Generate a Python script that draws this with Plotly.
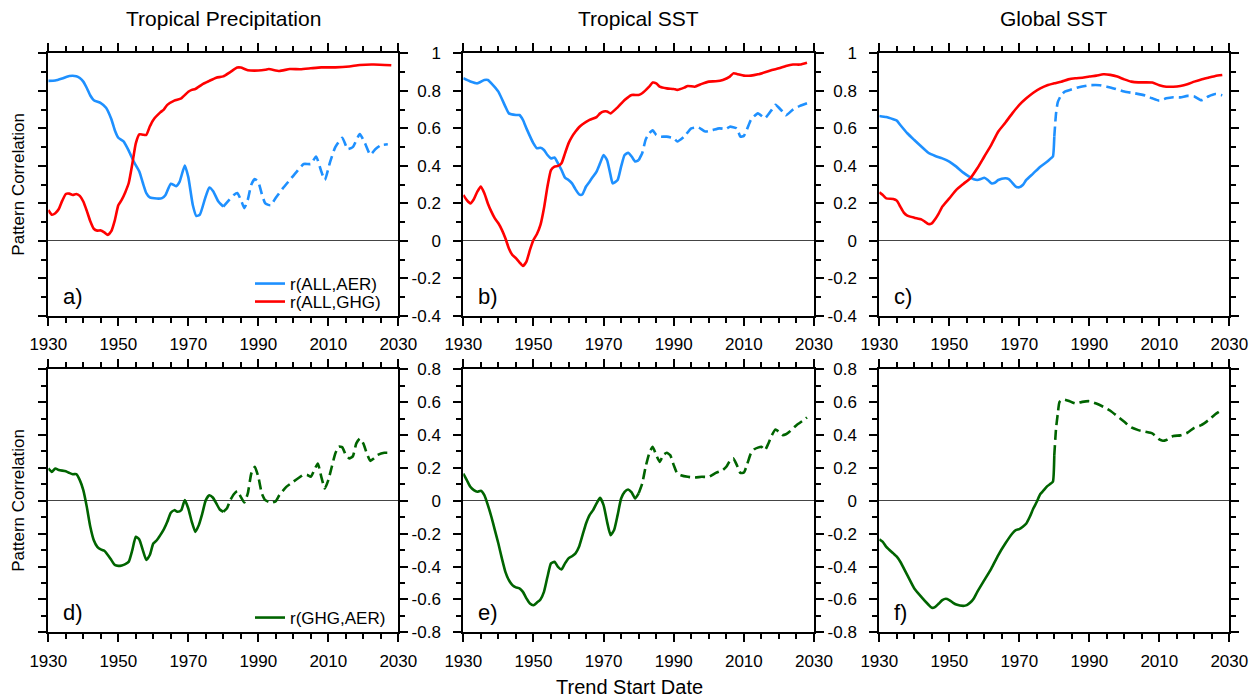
import plotly.graph_objects as go

BREAK_YEAR = 1980

# ---------------- Panel a: Tropical Precipitation ----------------
a_aer_years = [1930, 1932, 1934, 1936, 1938, 1939, 1940, 1941, 1942, 1943, 1945, 1946.5, 1948, 1949,
               1950, 1951.5, 1953, 1954.5, 1956, 1957, 1958, 1959, 1961, 1962.5, 1963.5, 1965, 1966.5,
               1967.5, 1969, 1970, 1971.3, 1972.3, 1973.3, 1974.8, 1976, 1977.1, 1978.6, 1980,
               1981.5, 1983, 1984, 1985, 1986, 1987, 1988, 1989, 1990, 1991, 1992, 1993.5, 1995, 1997,
               1999, 2001, 2003, 2005, 2006.5, 2008, 2009, 2010.5, 2012, 2014, 2015.5, 2017, 2019,
               2020.5, 2022, 2023.5, 2025, 2027]
a_aer_vals = [0.853, 0.855, 0.866, 0.879, 0.878, 0.868, 0.849, 0.815, 0.775, 0.75, 0.735, 0.71, 0.65, 0.59,
              0.55, 0.53, 0.48, 0.42, 0.37, 0.31, 0.255, 0.232, 0.226, 0.228, 0.245, 0.305, 0.292,
              0.315, 0.402, 0.34, 0.19, 0.133, 0.14, 0.227, 0.285, 0.265, 0.21, 0.183,
              0.215, 0.245, 0.255, 0.22, 0.175, 0.22, 0.3, 0.33, 0.315, 0.25, 0.2, 0.19, 0.23, 0.28,
              0.325, 0.37, 0.41, 0.41, 0.45, 0.37, 0.325, 0.42, 0.5, 0.55, 0.49, 0.5, 0.57,
              0.52, 0.46, 0.49, 0.51, 0.515]
a_ghg_years = [1930, 1931, 1932, 1933, 1934, 1935, 1936, 1937, 1938, 1939, 1940, 1941, 1942, 1943, 1944,
               1945, 1946, 1947, 1948, 1949, 1950, 1951, 1952, 1953, 1954, 1955, 1956, 1957, 1958, 1959,
               1960, 1962, 1963, 1964, 1966, 1968, 1970, 1971, 1972, 1974, 1976, 1978, 1980, 1982, 1984,
               1985, 1987, 1990, 1992, 1993, 1996, 1999, 2002, 2005, 2008, 2012, 2016, 2019, 2023, 2028]
a_ghg_vals = [0.165, 0.14, 0.148, 0.17, 0.215, 0.25, 0.252, 0.245, 0.25, 0.24, 0.21, 0.16, 0.105, 0.065, 0.055,
              0.056, 0.046, 0.032, 0.052, 0.11, 0.19, 0.22, 0.26, 0.31, 0.41, 0.52, 0.568, 0.566, 0.565, 0.61,
              0.645, 0.685, 0.70, 0.725, 0.748, 0.76, 0.795, 0.805, 0.81, 0.835, 0.853, 0.87, 0.877, 0.9, 0.924,
              0.924, 0.91, 0.908, 0.912, 0.916, 0.906, 0.916, 0.915, 0.92, 0.925, 0.925, 0.93, 0.938, 0.94, 0.936]

# ---------------- Panel b: Tropical SST ----------------
b_aer_years = [1930, 1932, 1934, 1936, 1937, 1938, 1940, 1942, 1943, 1945, 1946, 1947, 1948, 1950, 1951,
               1952, 1953, 1954, 1955, 1956, 1957, 1958, 1959, 1960, 1961, 1962, 1963, 1963.5, 1964, 1965,
               1966, 1967, 1968, 1969, 1970, 1971, 1972, 1972.6, 1974, 1975, 1976, 1977, 1978, 1979, 1980,
               1981, 1982, 1983, 1984, 1985, 1986, 1988, 1990, 1991, 1993, 1995, 1997, 1999, 2001, 2003,
               2005, 2006, 2008, 2009, 2010, 2011, 2012, 2014, 2016, 2018, 2019, 2021, 2022, 2024, 2026, 2028]
b_aer_vals = [0.867, 0.85, 0.84, 0.858, 0.858, 0.84, 0.796, 0.716, 0.68, 0.671, 0.671, 0.645, 0.60, 0.52, 0.494,
              0.497, 0.485, 0.458, 0.44, 0.445, 0.414, 0.378, 0.337, 0.325, 0.307, 0.275, 0.249, 0.245, 0.25, 0.29,
              0.316, 0.343, 0.37, 0.414, 0.458, 0.43, 0.35, 0.307, 0.325, 0.396, 0.458, 0.47, 0.45, 0.423, 0.43,
              0.467, 0.54, 0.574, 0.59, 0.565, 0.556, 0.556, 0.547, 0.53, 0.556, 0.60, 0.605, 0.583, 0.59, 0.60,
              0.597, 0.609, 0.60, 0.556, 0.56, 0.60, 0.645, 0.68, 0.654, 0.70, 0.725, 0.69, 0.67, 0.70, 0.72, 0.734]
b_ghg_years = [1930, 1931, 1932, 1933, 1934, 1935, 1936, 1937, 1938, 1939, 1940, 1941, 1942, 1943, 1944,
               1945, 1946, 1947, 1948, 1949, 1950, 1951, 1952, 1953, 1954, 1955, 1956, 1957, 1958, 1959,
               1960, 1961, 1962, 1963, 1964, 1966, 1968, 1969, 1970, 1971, 1972, 1974, 1976, 1978, 1980,
               1981, 1983, 1984, 1985, 1986, 1988, 1990, 1991, 1993, 1994, 1996, 1998, 2000, 2002, 2004,
               2006, 2007, 2008, 2010, 2012, 2014, 2016, 2018, 2020, 2022, 2024, 2026, 2028]
b_ghg_vals = [0.245, 0.218, 0.2, 0.222, 0.263, 0.29, 0.254, 0.2, 0.156, 0.12, 0.094, 0.059, 0.014, -0.04, -0.075,
              -0.092, -0.114, -0.133, -0.11, -0.048, 0.005, 0.037, 0.085, 0.174, 0.29, 0.378, 0.396, 0.40, 0.414, 0.467,
              0.52, 0.556, 0.583, 0.606, 0.622, 0.645, 0.66, 0.68, 0.69, 0.69, 0.68, 0.712, 0.751, 0.778, 0.778,
              0.787, 0.822, 0.844, 0.84, 0.822, 0.813, 0.81, 0.805, 0.817, 0.826, 0.822, 0.837, 0.849, 0.851, 0.858,
              0.876, 0.893, 0.89, 0.881, 0.881, 0.888, 0.899, 0.911, 0.92, 0.932, 0.94, 0.94, 0.95]

# ---------------- Panel c: Global SST ----------------
c_aer_years = [1930, 1932, 1934, 1935, 1936, 1938, 1940, 1942, 1944, 1946, 1948, 1950, 1952, 1954, 1956,
               1957, 1958, 1959, 1960, 1961, 1962, 1963, 1964, 1966, 1967, 1968, 1969, 1970, 1971, 1972,
               1974, 1976, 1978, 1979, 1979.6, 1980,
               1980.5, 1981, 1982, 1983, 1985, 1987, 1990, 1993, 1995, 1997, 2000, 2003, 2006, 2008,
               2010, 2012, 2014, 2016, 2018, 2020, 2022, 2024, 2026, 2028]
c_aer_vals = [0.666, 0.66, 0.648, 0.641, 0.618, 0.574, 0.538, 0.503, 0.47, 0.453, 0.44, 0.423, 0.396, 0.364, 0.339,
              0.329, 0.325, 0.33, 0.337, 0.325, 0.307, 0.31, 0.325, 0.334, 0.33, 0.31, 0.29, 0.286, 0.298, 0.325,
              0.36, 0.396, 0.423, 0.44, 0.45, 0.556,
              0.68, 0.74, 0.778, 0.796, 0.808, 0.819, 0.83, 0.83, 0.822, 0.813, 0.796, 0.787, 0.775, 0.76,
              0.748, 0.76, 0.766, 0.765, 0.773, 0.77, 0.75, 0.77, 0.783, 0.776]
c_ghg_years = [1930, 1931, 1932, 1934, 1935, 1936, 1937, 1938, 1940, 1942, 1943, 1944, 1945, 1946, 1947,
               1948, 1950, 1952, 1954, 1956, 1958, 1960, 1962, 1964, 1966, 1968, 1970, 1972, 1974, 1976,
               1978, 1980, 1982, 1984, 1986, 1988, 1990, 1992, 1994, 1996, 1998, 2000, 2002, 2004, 2006,
               2008, 2010, 2012, 2014, 2016, 2018, 2020, 2022, 2024, 2026, 2028]
c_ghg_vals = [0.259, 0.245, 0.227, 0.224, 0.215, 0.183, 0.151, 0.135, 0.124, 0.115, 0.103, 0.09, 0.094, 0.117, 0.147,
              0.183, 0.227, 0.272, 0.304, 0.334, 0.387, 0.45, 0.512, 0.583, 0.63, 0.68, 0.725, 0.76, 0.79, 0.813,
              0.83, 0.84, 0.849, 0.861, 0.867, 0.87, 0.876, 0.881, 0.888, 0.885, 0.876, 0.861, 0.849, 0.845, 0.845,
              0.844, 0.83, 0.822, 0.822, 0.826, 0.835, 0.849, 0.861, 0.87, 0.879, 0.884]

# ---------------- Panel d: Tropical Precipitation r(GHG,AER) ----------------
d_years = [1930, 1931, 1932, 1933, 1935, 1936, 1937, 1938, 1939, 1940, 1941, 1942, 1943, 1944, 1945,
           1946, 1947, 1948, 1949, 1950, 1951, 1952, 1953, 1954, 1955, 1956, 1957, 1958, 1959, 1960,
           1961, 1962, 1963, 1964, 1965, 1966, 1967, 1968, 1969, 1970, 1971, 1972, 1973, 1974, 1975,
           1976, 1977, 1978, 1979, 1980,
           1981, 1982, 1983, 1984, 1985, 1986, 1987, 1988, 1989, 1990, 1991, 1992, 1993, 1994, 1995,
           1996, 1998, 2000, 2002, 2003, 2004, 2005, 2006, 2007, 2008, 2009, 2010, 2011, 2012, 2013,
           2014, 2015, 2016, 2017, 2018, 2019, 2020, 2021, 2022, 2023, 2024, 2026, 2028]
d_vals = [0.197, 0.176, 0.197, 0.187, 0.18, 0.17, 0.162, 0.162, 0.126, 0.065, -0.037, -0.158, -0.24, -0.28, -0.296,
          -0.304, -0.33, -0.36, -0.39, -0.396, -0.393, -0.385, -0.37, -0.3, -0.219, -0.235, -0.3, -0.36, -0.33, -0.26,
          -0.24, -0.209, -0.174, -0.128, -0.073, -0.057, -0.067, -0.057, 0.004, -0.047, -0.128, -0.189, -0.148, -0.077, 0.004,
          0.034, 0.02, -0.016, -0.053, -0.067,
          -0.047, 0.004, 0.04, 0.059, 0.024, -0.01, 0.045, 0.166, 0.207, 0.146, 0.045, 0.004, -0.006, -0.01, -0.002,
          0.034, 0.085, 0.116, 0.146, 0.16, 0.157, 0.146, 0.187, 0.227, 0.146, 0.075, 0.126, 0.207, 0.288, 0.329,
          0.325, 0.278, 0.258, 0.27, 0.349, 0.379, 0.349, 0.288, 0.243, 0.258, 0.278, 0.292, 0.292]

# ---------------- Panel e: Tropical SST r(GHG,AER) ----------------
e_years = [1930, 1931, 1932, 1933, 1934, 1935, 1936, 1937, 1938, 1939, 1940, 1941, 1942, 1943, 1944,
           1945, 1946, 1947, 1948, 1949, 1950, 1951, 1952, 1953, 1954, 1955, 1956, 1957, 1958, 1959,
           1960, 1961, 1962, 1963, 1964, 1965, 1966, 1967, 1968, 1969, 1970, 1971, 1972, 1973, 1974,
           1975, 1976, 1977, 1978, 1979, 1980,
           1981, 1982, 1983, 1984, 1985, 1986, 1987, 1988, 1989, 1990, 1991, 1992, 1994, 1996, 1998,
           2000, 2002, 2004, 2005, 2006, 2007, 2008, 2009, 2010, 2011, 2012, 2013, 2015, 2016, 2017,
           2018, 2019, 2020, 2021, 2022, 2023, 2025, 2027, 2028]
e_vals = [0.166, 0.126, 0.085, 0.065, 0.055, 0.061, 0.034, -0.026, -0.097, -0.178, -0.26, -0.35, -0.432, -0.483, -0.513,
          -0.527, -0.533, -0.554, -0.594, -0.625, -0.635, -0.619, -0.6, -0.554, -0.462, -0.381, -0.371, -0.402, -0.418, -0.381,
          -0.35, -0.337, -0.32, -0.28, -0.209, -0.138, -0.087, -0.057, -0.016, 0.018, -0.026, -0.128, -0.209, -0.178, -0.087,
          0.014, 0.055, 0.069, 0.051, 0.014, 0.045,
          0.105, 0.207, 0.288, 0.329, 0.278, 0.237, 0.278, 0.292, 0.278, 0.217, 0.166, 0.156, 0.146, 0.142, 0.146,
          0.146, 0.17, 0.187, 0.207, 0.243, 0.258, 0.217, 0.17, 0.172, 0.227, 0.288, 0.314, 0.329, 0.308, 0.349,
          0.4, 0.434, 0.42, 0.4, 0.405, 0.42, 0.46, 0.49, 0.507]

# ---------------- Panel f: Global SST r(GHG,AER) ----------------
f_years = [1930, 1931, 1932, 1934, 1935, 1936, 1938, 1940, 1942, 1944, 1945, 1946, 1947, 1948, 1949,
           1950, 1951, 1952, 1954, 1955, 1956, 1957, 1958, 1960, 1962, 1964, 1966, 1968, 1969, 1970,
           1971, 1972, 1973, 1974, 1975, 1976, 1977, 1978, 1979, 1979.6, 1980,
           1980.5, 1981, 1981.5, 1982.5, 1984, 1986, 1988, 1990, 1992, 1994, 1996, 1998, 2000, 2002,
           2004, 2006, 2008, 2010, 2011, 2012, 2014, 2016, 2018, 2020, 2022, 2024, 2026, 2027]
f_vals = [-0.235, -0.25, -0.28, -0.32, -0.34, -0.371, -0.452, -0.533, -0.584, -0.631, -0.651, -0.645, -0.625, -0.604, -0.596,
          -0.604, -0.619, -0.631, -0.639, -0.635, -0.619, -0.594, -0.554, -0.483, -0.412, -0.33, -0.26, -0.199, -0.178, -0.172,
          -0.158, -0.138, -0.097, -0.047, -0.006, 0.041, 0.065, 0.089, 0.105, 0.116, 0.278,
          0.44, 0.531, 0.602, 0.617, 0.609, 0.592, 0.602, 0.606, 0.592, 0.572, 0.548, 0.515, 0.481, 0.446,
          0.43, 0.42, 0.41, 0.373, 0.365, 0.37, 0.394, 0.398, 0.414, 0.444, 0.46, 0.49, 0.527, 0.541]

# ---------------- Axis labels / text ----------------
x_tickvals = [1930, 1950, 1970, 1990, 2010, 2030]
x_ticktext = ["1930", "1950", "1970", "1990", "2010", "2030"]
top_y_tickvals = [-0.4, -0.2, 0, 0.2, 0.4, 0.6, 0.8, 1.0]
top_y_ticktext = ["-0.4", "-0.2", "0", "0.2", "0.4", "0.6", "0.8", "1"]
bot_y_tickvals = [-0.8, -0.6, -0.4, -0.2, 0, 0.2, 0.4, 0.6, 0.8]
bot_y_ticktext = ["-0.8", "-0.6", "-0.4", "-0.2", "0", "0.2", "0.4", "0.6", "0.8"]
column_titles = ["Tropical Precipitation", "Tropical SST", "Global SST"]
panel_letters = ["a)", "b)", "c)", "d)", "e)", "f)"]
legend_names = ["r(ALL,AER)", "r(ALL,GHG)", "r(GHG,AER)"]

BLUE = "#1E90FF"
RED = "#FF0000"
GREEN = "#006400"
FONT = "Liberation Sans, Arial, Helvetica, sans-serif"
W, H = 1258, 697

fig = go.Figure()


def add_series(years, vals, color, axis_idx, split=True, name=None, legend=None):
    xa = "x" if axis_idx == 1 else f"x{axis_idx}"
    ya = "y" if axis_idx == 1 else f"y{axis_idx}"
    if split:
        xs = [x for x in years if x <= BREAK_YEAR]
        ys = [v for x, v in zip(years, vals) if x <= BREAK_YEAR]
        xd = [x for x in years if x >= BREAK_YEAR]
        yd = [v for x, v in zip(years, vals) if x >= BREAK_YEAR]
    else:
        xs, ys, xd, yd = years, vals, [], []
    fig.add_trace(go.Scatter(
        x=xs, y=ys, mode="lines", xaxis=xa, yaxis=ya,
        line=dict(color=color, width=2.6, shape="spline", smoothing=0.5),
        name=name or "", showlegend=name is not None, legend=legend or "legend",
        hoverinfo="skip"))
    if xd:
        fig.add_trace(go.Scatter(
            x=xd, y=yd, mode="lines", xaxis=xa, yaxis=ya,
            line=dict(color=color, width=2.6, dash="10px,5px", shape="spline", smoothing=0.5),
            showlegend=False, hoverinfo="skip"))


add_series(a_aer_years, a_aer_vals, BLUE, 1, True, legend_names[0], "legend")
add_series(a_ghg_years, a_ghg_vals, RED, 1, False, legend_names[1], "legend2")
add_series(b_aer_years, b_aer_vals, BLUE, 2, True)
add_series(b_ghg_years, b_ghg_vals, RED, 2, False)
add_series(c_aer_years, c_aer_vals, BLUE, 3, True)
add_series(c_ghg_years, c_ghg_vals, RED, 3, False)
add_series(d_years, d_vals, GREEN, 4, True, legend_names[2], "legend3")
add_series(e_years, e_vals, GREEN, 5, True)
add_series(f_years, f_vals, GREEN, 6, True)

# panel domains in pixels
col_px = [(48.3, 398.3), (463.3, 814.0), (879.3, 1229.3)]
row_px = [(53.3, 316.0), (369.3, 632.3)]

layout = dict(
    width=W, height=H, margin=dict(l=0, r=0, t=0, b=0, autoexpand=False),
    paper_bgcolor="white", plot_bgcolor="white",
    font=dict(family=FONT, size=17, color="black"),
    showlegend=True,
)

annotations = []
for i in range(6):
    r, c = divmod(i, 3)
    idx = i + 1
    xk = "xaxis" if idx == 1 else f"xaxis{idx}"
    yk = "yaxis" if idx == 1 else f"yaxis{idx}"
    x0, x1 = col_px[c]
    y0, y1 = row_px[r]
    layout[xk] = dict(
        domain=[x0 / W, x1 / W], anchor="y" if idx == 1 else f"y{idx}",
        range=[1930, 2030], tickmode="array", tickvals=x_tickvals, ticktext=x_ticktext,
        ticks="outside", ticklen=8, tickwidth=2, tickcolor="black",
        showline=True, linewidth=2, linecolor="black", mirror="allticks",
        showgrid=False, zeroline=False, ticklabelstandoff=4, automargin=False,
        tickfont=dict(size=17, family=FONT, color="black"),
        minor=dict(tickmode="linear", tick0=1930, dtick=5, ticks="outside", ticklen=5,
                   tickwidth=1.5, tickcolor="black", showgrid=False),
        fixedrange=True,
    )
    tv = top_y_tickvals if r == 0 else bot_y_tickvals
    tt = top_y_ticktext if r == 0 else bot_y_ticktext
    rng = [-0.4, 1.0] if r == 0 else [-0.8, 0.8]
    layout[yk] = dict(
        domain=[1 - y1 / H, 1 - y0 / H], anchor="x" if idx == 1 else f"x{idx}",
        range=rng, tickmode="array", tickvals=tv, ticktext=tt,
        ticks="outside", ticklen=8, tickwidth=2, tickcolor="black",
        showline=True, linewidth=2, linecolor="black", mirror="allticks",
        showgrid=False, zeroline=True, zerolinecolor="#444444", zerolinewidth=1,
        showticklabels=(c != 0), ticklabelstandoff=9, automargin=False,
        tickfont=dict(size=17, family=FONT, color="black"),
        minor=dict(tickmode="linear", tick0=0, dtick=0.1, ticks="outside", ticklen=5,
                   tickwidth=1.5, tickcolor="black", showgrid=False),
        fixedrange=True,
    )
    annotations.append(dict(
        text=panel_letters[i], xref=f"x{'' if idx == 1 else idx} domain",
        yref=f"y{'' if idx == 1 else idx} domain",
        x=12.5 / (x1 - x0), y=20 / (y1 - y0), xanchor="left", yanchor="middle",
        showarrow=False, font=dict(size=22, family=FONT, color="black")))

for c in range(3):
    x0, x1 = col_px[c]
    annotations.append(dict(
        text=column_titles[c], xref="paper", yref="paper",
        x=(x0 + x1) / 2 / W, y=1 - 18 / H, xanchor="center", yanchor="middle",
        showarrow=False, font=dict(size=21, family=FONT, color="black")))

for r in range(2):
    y0, y1 = row_px[r]
    annotations.append(dict(
        text="Pattern Correlation", xref="paper", yref="paper", textangle=-90,
        x=19 / W, y=1 - (y0 + y1) / 2 / H, xanchor="center", yanchor="middle",
        showarrow=False, font=dict(size=17, family=FONT, color="black")))

annotations.append(dict(
    text="Trend Start Date", xref="paper", yref="paper",
    x=630 / W, y=1 - 687 / H, xanchor="center", yanchor="middle",
    showarrow=False, font=dict(size=20, family=FONT, color="black")))

layout["annotations"] = annotations

leg_common = dict(bgcolor="rgba(0,0,0,0)", borderwidth=0, xanchor="left", yanchor="middle",
                  font=dict(size=17, family=FONT, color="black"), itemclick=False,
                  itemdoubleclick=False)
layout["legend"] = dict(leg_common, x=250 / W, y=1 - 284 / H)
layout["legend2"] = dict(leg_common, x=250 / W, y=1 - 302 / H)
layout["legend3"] = dict(leg_common, x=250 / W, y=1 - 618 / H)

fig.update_layout(**layout)
fig.write_html("out.html", config={"displayModeBar": False})
